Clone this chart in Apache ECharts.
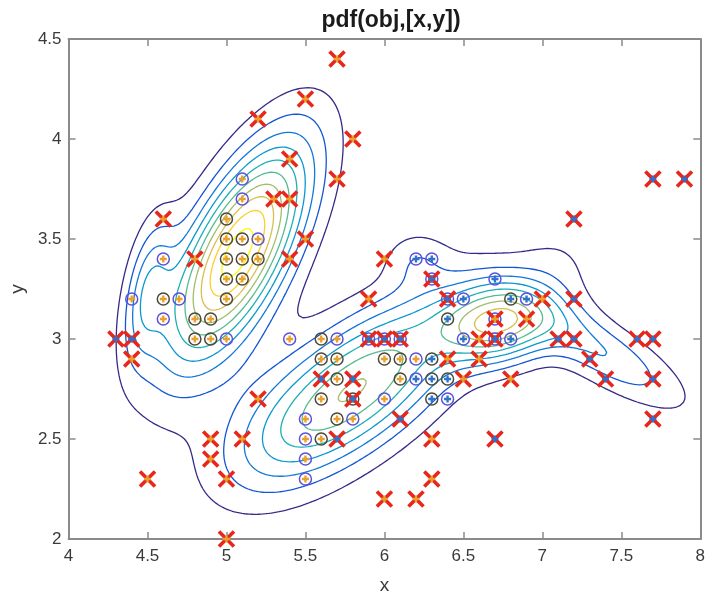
<!DOCTYPE html>
<html><head><meta charset="utf-8">
<script src="https://cdn.jsdelivr.net/npm/echarts/dist/echarts.min.js"></script>
<style>html,body{margin:0;padding:0;background:#fff}#c{width:708px;height:600px}</style>
</head><body><div id="c"></div>
<script>
// ---- Gaussian mixture (fitted model) parameters ----
const compWeight = [0.29, 0.025, 0.20, 0.075, 0.042, 0.035, 0.006, 0.025, 0.008];
const compMeanX  = [5.07, 4.50, 5.90, 6.72, 7.35, 5.38, 6.20, 5.20, 7.10];
const compMeanY  = [3.43, 3.25, 2.80, 3.08, 2.95, 2.50, 3.40, 2.62, 3.38];
const compVarX   = [0.095, 0.012, 0.18, 0.06, 0.14, 0.10, 0.02, 0.15, 0.04];
const compCovXY  = [0.078, 0.012, 0.075, 0.004, -0.06, 0.03, 0.0, 0.05, 0.0];
const compVarY   = [0.145, 0.06, 0.085, 0.018, 0.04, 0.05, 0.01, 0.10, 0.02];
const contourLevels = [0.05,0.10,0.15,0.20,0.25,0.30,0.35,0.40,0.45,0.50];

// ---- data points ----
const circRingBlueCoreOrange = [[4.4,3.2],[4.6,3.1],[4.6,3.4],[4.7,3.2],[5.0,3.0],[5.1,3.7],[5.1,3.8],[5.2,3.5],[5.4,3.0],[5.5,2.3],[5.5,2.4],[5.5,2.5],[5.5,2.6],[5.7,3.0],[5.8,2.6],[5.9,3.0],[6.0,3.0],[6.1,3.0],[6.0,2.7],[6.2,2.9]];
const circRingBlueCoreBlue = [[6.2,2.8],[6.2,3.4],[6.3,3.3],[6.3,3.4],[6.4,2.7],[6.4,3.2],[6.5,3.0],[6.5,3.2],[6.7,3.0],[6.7,3.1],[6.7,3.3],[6.8,3.0],[6.9,3.2]];
const circRingDarkCoreOrange = [[4.6,3.2],[4.8,3.0],[4.8,3.1],[4.9,3.0],[4.9,3.1],[5.0,3.2],[5.0,3.3],[5.0,3.4],[5.0,3.5],[5.0,3.6],[5.1,3.3],[5.1,3.4],[5.1,3.5],[5.2,3.4],[5.6,2.5],[5.6,2.7],[5.6,2.9],[5.6,3.0],[5.7,2.6],[5.7,2.8],[5.7,2.9],[5.8,2.7],[6.0,2.9],[6.1,2.8],[6.1,2.9]];
const circRingDarkCoreBlue = [[6.3,2.7],[6.3,2.8],[6.3,2.9],[6.4,2.8],[6.4,3.1],[6.8,3.2]];
const crossCoreOrange = [[5.7,4.4],[5.5,4.2],[5.2,4.1],[5.8,4.0],[5.4,3.9],[5.7,3.8],[5.3,3.7],[5.4,3.7],[5.5,3.5],[5.4,3.4],[4.8,3.4],[4.6,3.6],[4.4,2.9],[4.5,2.3],[5.0,2.0],[4.9,2.4],[4.9,2.5],[5.0,2.3],[5.1,2.5],[5.2,2.7],[5.9,3.2],[6.0,3.4],[6.0,2.2],[6.2,2.2],[6.3,2.3],[6.3,2.5],[6.4,2.9],[6.5,2.8],[6.6,2.9],[6.6,3.0],[6.7,3.1],[6.8,2.8],[6.9,3.1],[7.0,3.2]];
const crossCoreBlue = [[4.3,3.0],[4.4,3.0],[5.6,2.8],[5.8,2.8],[5.7,2.5],[6.1,2.6],[6.7,2.5],[7.1,3.0],[7.2,3.0],[7.2,3.2],[7.2,3.6],[7.3,2.9],[7.4,2.8],[7.6,3.0],[7.7,3.0],[7.7,2.8],[7.7,2.6],[7.7,3.8],[7.9,3.8],[5.8,2.7],[5.9,3.0],[6.0,3.0],[6.1,3.0],[6.3,3.3],[6.4,3.2],[6.7,3.0]];

const xMin = 4, xMax = 8, yMin = 2, yMax = 4.5, tickStep = 0.5;

function pdf(x, y) {
  let s = 0;
  for (let k = 0; k < compWeight.length; k++) {
    const dx = x - compMeanX[k], dy = y - compMeanY[k];
    const vx = compVarX[k], vy = compVarY[k], c = compCovXY[k];
    const det = vx * vy - c * c;
    const q = (vy * dx * dx - 2 * c * dx * dy + vx * dy * dy) / det;
    s += compWeight[k] / (2 * Math.PI * Math.sqrt(det)) * Math.exp(-q / 2);
  }
  return s;
}

// grid
const NX = 241, NY = 151;
const gx = [], gy = [], Z = [];
for (let i = 0; i < NX; i++) gx.push(xMin + (xMax - xMin) * i / (NX - 1));
for (let j = 0; j < NY; j++) gy.push(yMin + (yMax - yMin) * j / (NY - 1));
for (let j = 0; j < NY; j++) { const row = []; for (let i = 0; i < NX; i++) row.push(pdf(gx[i], gy[j])); Z.push(row); }

function contour(L) {
  const pts = {}; const segs = [];
  function ep(id, x1, y1, v1, x2, y2, v2) {
    if (!pts[id]) { const t = (L - v1) / (v2 - v1); pts[id] = [x1 + t * (x2 - x1), y1 + t * (y2 - y1)]; }
    return id;
  }
  for (let j = 0; j < NY - 1; j++) for (let i = 0; i < NX - 1; i++) {
    const a = Z[j][i], b = Z[j][i + 1], c = Z[j + 1][i + 1], d = Z[j + 1][i];
    const idx = (a > L ? 1 : 0) | (b > L ? 2 : 0) | (c > L ? 4 : 0) | (d > L ? 8 : 0);
    if (idx === 0 || idx === 15) continue;
    const x0 = gx[i], x1 = gx[i + 1], y0 = gy[j], y1 = gy[j + 1];
    const B = () => ep('h' + i + '_' + j, x0, y0, a, x1, y0, b);
    const T = () => ep('h' + i + '_' + (j + 1), x0, y1, d, x1, y1, c);
    const Lf = () => ep('v' + i + '_' + j, x0, y0, a, x0, y1, d);
    const R = () => ep('v' + (i + 1) + '_' + j, x1, y0, b, x1, y1, c);
    const cen = (a + b + c + d) / 4;
    switch (idx) {
      case 1: case 14: segs.push([Lf(), B()]); break;
      case 2: case 13: segs.push([B(), R()]); break;
      case 3: case 12: segs.push([Lf(), R()]); break;
      case 4: case 11: segs.push([R(), T()]); break;
      case 6: case 9: segs.push([B(), T()]); break;
      case 7: case 8: segs.push([Lf(), T()]); break;
      case 5: if (cen > L) { segs.push([B(), R()]); segs.push([Lf(), T()]); } else { segs.push([Lf(), B()]); segs.push([R(), T()]); } break;
      case 10: if (cen > L) { segs.push([Lf(), B()]); segs.push([R(), T()]); } else { segs.push([B(), R()]); segs.push([Lf(), T()]); } break;
    }
  }
  const adj = {};
  segs.forEach((s, k) => { (adj[s[0]] = adj[s[0]] || []).push(k); (adj[s[1]] = adj[s[1]] || []).push(k); });
  const used = new Array(segs.length).fill(false);
  const lines = [];
  for (let k = 0; k < segs.length; k++) {
    if (used[k]) continue;
    used[k] = true;
    const chain = [segs[k][0], segs[k][1]];
    let cur = segs[k][1];
    while (true) { const nb = (adj[cur] || []).find(m => !used[m]); if (nb === undefined) break; used[nb] = true; const nx = segs[nb][0] === cur ? segs[nb][1] : segs[nb][0]; chain.push(nx); cur = nx; }
    cur = segs[k][0];
    while (true) { const nb = (adj[cur] || []).find(m => !used[m]); if (nb === undefined) break; used[nb] = true; const nx = segs[nb][0] === cur ? segs[nb][1] : segs[nb][0]; chain.unshift(nx); cur = nx; }
    lines.push(chain.map(id => pts[id]));
  }
  return lines;
}

const parulaStops = ['#352a87', '#0f5cdd', '#1481d6', '#06a4ca', '#2eb7a4', '#87bf77', '#d1bb59', '#fec832', '#f9fb0e'];
function hex2rgb(h) { return [parseInt(h.substr(1, 2), 16), parseInt(h.substr(3, 2), 16), parseInt(h.substr(5, 2), 16)]; }
function parula(t) {
  t = Math.max(0, Math.min(1, t));
  const p = t * (parulaStops.length - 1); const i = Math.min(Math.floor(p), parulaStops.length - 2); const f = p - i;
  const a = hex2rgb(parulaStops[i]), b = hex2rgb(parulaStops[i + 1]);
  return 'rgb(' + a.map((v, k) => Math.round(v + (b[k] - v) * f)).join(',') + ')';
}

const series = [];
const lvMin = contourLevels[0], lvMax = contourLevels[contourLevels.length - 1];
contourLevels.forEach(L => {
  const col = parula((L - lvMin) / (lvMax - lvMin));
  contour(L).forEach(pl => {
    series.push({ type: 'line', data: pl, showSymbol: false, symbol: 'none', silent: true, animation: false,
      lineStyle: { color: col, width: 1.3 }, z: 2 });
  });
});

const ringBlue = '#5a52dc', ringDark = '#4a4a3c', coreOrange = '#e9a02e', coreBlue = '#2f72c8', crossRed = '#e8261c';
const plusPath = 'path://M2,0H4V2H6V4H4V6H2V4H0V2H2Z';
function ring(data, col) { return { type: 'scatter', data, symbol: 'circle', symbolSize: 12, silent: true, animation: false, z: 5,
  itemStyle: { color: 'rgba(0,0,0,0)', borderColor: col, borderWidth: 1.5, opacity: 1 } }; }
function core(data, col, z) { return { type: 'scatter', data, symbol: plusPath, symbolSize: 7, silent: true, animation: false, z: z,
  itemStyle: { color: col, opacity: 1 } }; }
function cross(data) { return { type: 'scatter', data, symbol: 'path://M0,0L10,10M10,0L0,10', symbolSize: 15, silent: true, animation: false, z: 7,
  itemStyle: { color: 'rgba(0,0,0,0)', borderColor: crossRed, borderWidth: 3.6, opacity: 1 } }; }

series.push(ring(circRingBlueCoreOrange, ringBlue));
series.push(ring(circRingBlueCoreBlue, ringBlue));
series.push(ring(circRingDarkCoreOrange, ringDark));
series.push(ring(circRingDarkCoreBlue, ringDark));
series.push(core(circRingBlueCoreOrange, coreOrange, 6));
series.push(core(circRingDarkCoreOrange, coreOrange, 6));
series.push(core(circRingBlueCoreBlue, coreBlue, 6));
series.push(core(circRingDarkCoreBlue, coreBlue, 6));
series.push(cross(crossCoreOrange));
series.push(cross(crossCoreBlue));
series.push(core(crossCoreOrange, coreOrange, 8));
series.push(core(crossCoreBlue, coreBlue, 8));

const axisGray = '#8a8a8a';
const labelFont = { fontFamily: 'Liberation Sans, Arial, sans-serif', fontSize: 17, color: '#3a3a3a' };
function xa(pos, show) {
  return { type: 'value', min: xMin, max: xMax, interval: tickStep, position: pos,
    axisLine: { show: true, onZero: false, lineStyle: { color: axisGray, width: 2 } },
    axisTick: { show: true, inside: true, length: 7, lineStyle: { color: axisGray, width: 1.5 } },
    axisLabel: Object.assign({ show: show, margin: 9 }, labelFont),
    splitLine: { show: false },
    name: show ? 'x' : '', nameLocation: 'middle', nameGap: 37,
    nameTextStyle: { fontFamily: 'Liberation Sans, Arial, sans-serif', fontSize: 19, color: '#3a3a3a' } };
}
function ya(pos, show) {
  return { type: 'value', min: yMin, max: yMax, interval: tickStep, position: pos,
    axisLine: { show: true, onZero: false, lineStyle: { color: axisGray, width: 2 } },
    axisTick: { show: true, inside: true, length: 7, lineStyle: { color: axisGray, width: 1.5 } },
    axisLabel: Object.assign({ show: show, margin: 7 }, labelFont),
    splitLine: { show: false },
    name: show ? 'y' : '', nameLocation: 'middle', nameGap: 40, nameRotate: 90,
    nameTextStyle: { fontFamily: 'Liberation Sans, Arial, sans-serif', fontSize: 19, color: '#3a3a3a' } };
}
series.forEach(s => { s.xAxisIndex = 0; s.yAxisIndex = 0; });

const chart = echarts.init(document.getElementById('c'), null, { renderer: 'canvas' });
chart.setOption({
  backgroundColor: '#ffffff',
  animation: false,
  title: { text: 'pdf(obj,[x,y])', left: 386, top: 4, textAlign: 'center',
    textStyle: { fontFamily: 'Liberation Sans, Arial, sans-serif', fontSize: 23, fontWeight: 'bold', color: '#1a1a1a' } },
  grid: { left: 68, right: 3, top: 39, bottom: 58.5, containLabel: false },
  xAxis: [xa('bottom', true), xa('top', false)],
  yAxis: [ya('left', true), ya('right', false)],
  series: series
});
</script></body></html>
